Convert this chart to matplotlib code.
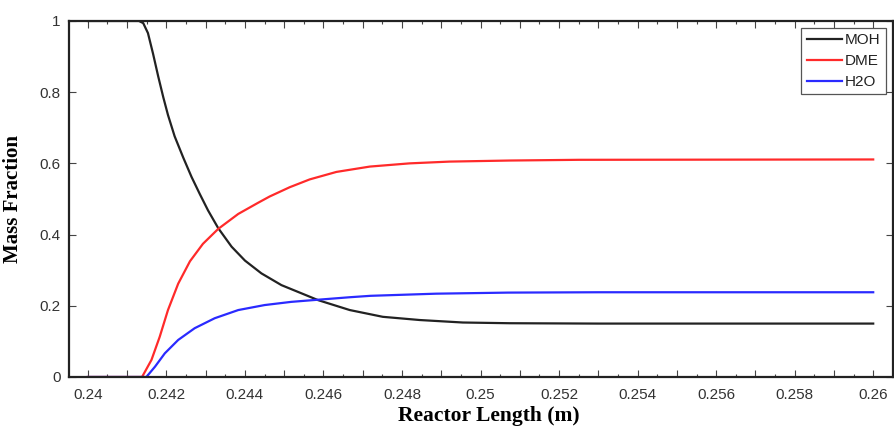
import matplotlib
matplotlib.use("Agg")
import matplotlib.pyplot as plt
from matplotlib.ticker import MultipleLocator, FuncFormatter

# reactor length (m) and species mass fractions
moh_x = [0.2400, 0.2413, 0.24141, 0.24153, 0.24166, 0.24179, 0.24192, 0.24204,
         0.24221, 0.24243, 0.24264, 0.24285, 0.24306, 0.24332, 0.24366, 0.24400,
         0.24442, 0.24493, 0.24544, 0.24586, 0.24667, 0.24751, 0.24845, 0.24955,
         0.25074, 0.2530, 0.2600]
moh_y = [1.0, 1.0, 0.994, 0.966, 0.908, 0.845, 0.786, 0.736,
         0.676, 0.616, 0.562, 0.514, 0.468, 0.418, 0.366, 0.327,
         0.291, 0.258, 0.235, 0.216, 0.188, 0.169, 0.160, 0.153,
         0.151, 0.150, 0.150]

dme_x = [0.2400, 0.24138, 0.24162, 0.24183, 0.24204, 0.2423, 0.2426, 0.24293,
         0.24332, 0.24383, 0.24433, 0.24463, 0.24514, 0.24565, 0.24633, 0.24718,
         0.24819, 0.24921, 0.25074, 0.2525, 0.2600]
dme_y = [0.0, 0.0, 0.048, 0.113, 0.188, 0.262, 0.325, 0.374,
         0.416, 0.458, 0.489, 0.507, 0.533, 0.555, 0.576, 0.591,
         0.600, 0.605, 0.608, 0.610, 0.611]

h2o_x = [0.2400, 0.24149, 0.24171, 0.24196, 0.2423, 0.24272, 0.24323, 0.24383,
         0.2445, 0.24518, 0.24586, 0.24667, 0.2472, 0.24887, 0.2507, 0.2530,
         0.2600]
h2o_y = [0.0, 0.0, 0.029, 0.0665, 0.104, 0.137, 0.165, 0.188,
         0.202, 0.211, 0.217, 0.224, 0.228, 0.234, 0.237, 0.238,
         0.238]

fig = plt.figure(figsize=(8.94, 4.28), dpi=100)
ax = fig.add_axes([0.0772, 0.1192, 0.9215, 0.8318])

ax.plot(moh_x, moh_y, color="#222222", lw=1.6, label="MOH")
ax.plot(dme_x, dme_y, color="#ff2a2a", lw=1.6, label="DME")
ax.plot(h2o_x, h2o_y, color="#2a2aff", lw=1.6, label="H2O")

ax.set_xlim(0.23952, 0.2605)
ax.set_ylim(0, 1)

ax.xaxis.set_major_locator(MultipleLocator(0.001))
ax.xaxis.set_minor_locator(MultipleLocator(0.0005))
ax.yaxis.set_major_locator(MultipleLocator(0.2))


def xfmt(v, pos):
    k = round(v / 0.001)
    return "%g" % round(v, 4) if k % 2 == 0 else ""


ax.xaxis.set_major_formatter(FuncFormatter(xfmt))
ax.yaxis.set_major_formatter(FuncFormatter(lambda v, p: "%g" % round(v, 2)))

ax.tick_params(which="both", direction="in", top=True, right=True,
               labelsize=11, color="#444444", width=0.8)
ax.tick_params(which="major", length=5, pad=6)
ax.tick_params(axis="x", which="major", pad=8)
ax.tick_params(which="minor", length=2.5)
for lab in ax.get_xticklabels() + ax.get_yticklabels():
    lab.set_fontfamily("Liberation Sans")
    lab.set_color("#333333")

for s in ax.spines.values():
    s.set_linewidth(1.6)
    s.set_color("#222222")

ax.set_xlabel("Reactor Length (m)", family="Liberation Serif",
              fontweight="bold", fontsize=15.5)
ax.xaxis.set_label_coords(0.51, -0.082)
ax.set_ylabel("Mass Fraction", family="Liberation Serif",
              fontweight="bold", fontsize=15, labelpad=12)

leg = ax.legend(loc="upper right", prop={"family": "Liberation Sans",
                                         "size": 11},
                fancybox=False, framealpha=1, edgecolor="#555555",
                handlelength=2.3, handletextpad=0.2, borderpad=0.35,
                labelspacing=0.45, borderaxespad=0.45)
leg.get_frame().set_linewidth(0.9)
for t in leg.get_texts():
    t.set_color("#222222")

fig.savefig("out.png", dpi=100)
